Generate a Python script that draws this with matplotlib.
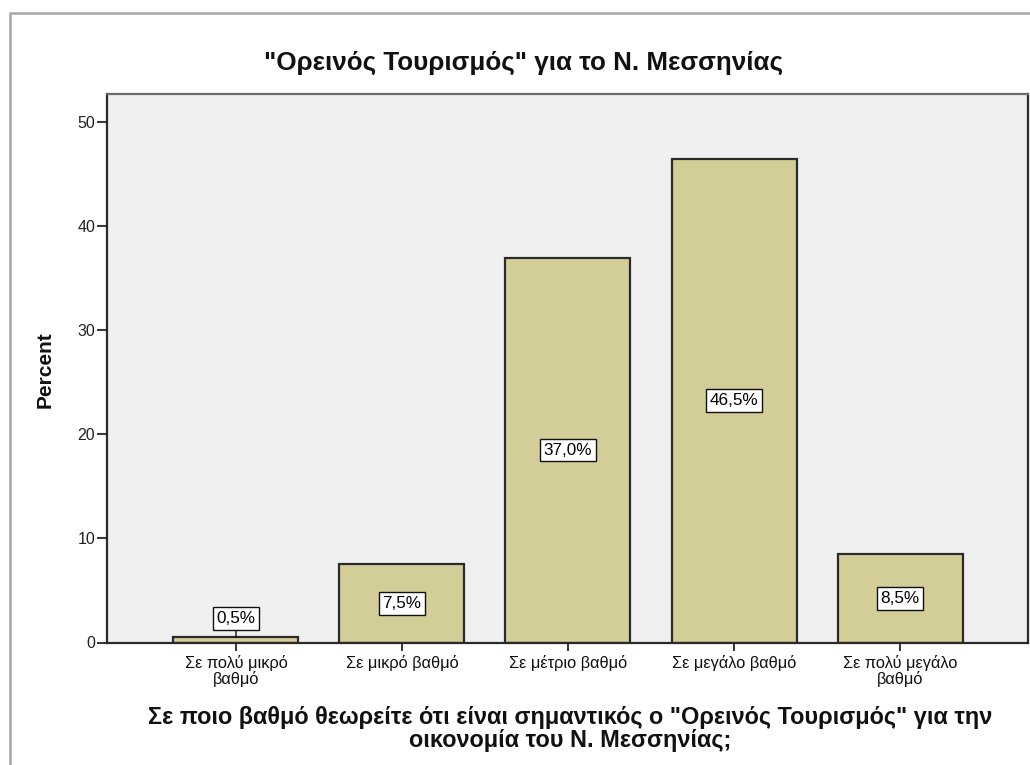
import matplotlib
matplotlib.use("Agg")
import matplotlib.pyplot as plt
from matplotlib.patches import Rectangle

plt.rcParams['font.family'] = ['Liberation Sans', 'DejaVu Sans']

categories = ["Σε πολύ μικρό\nβαθμό", "Σε μικρό βαθμό", "Σε μέτριο βαθμό",
              "Σε μεγάλο βαθμό", "Σε πολύ μεγάλο\nβαθμό"]
percent = [0.5, 7.5, 37.0, 46.5, 8.5]
value_labels = ["0,5%", "7,5%", "37,0%", "46,5%", "8,5%"]
yticks = [0, 10, 20, 30, 40, 50]

title = "\"Ορεινός Τουρισμός\" για το Ν. Μεσσηνίας"
xlabel = "Σε ποιο βαθμό θεωρείτε ότι είναι σημαντικός ο \"Ορεινός Τουρισμός\" για την\nοικονομία του Ν. Μεσσηνίας;"
ylabel = "Percent"

W, H = 1030, 765
fig = plt.figure(figsize=(W / 100, H / 100), dpi=100)
fig.patch.set_facecolor("white")

# outer frame (clipped at right/bottom)
fig.patches.append(Rectangle((10 / W, -0.05), 1.1, 1 - 13 / H + 0.05,
                             transform=fig.transFigure, fill=False,
                             edgecolor="#a8a8a8", linewidth=1.8))

ax = fig.add_axes([107 / W, 1 - 642.5 / H, (1028 - 107) / W, (642.5 - 94) / H])
ax.set_facecolor("#f0f0f0")

x = list(range(len(categories)))
bars = ax.bar(x, percent, width=0.753, color="#d3ce97", edgecolor="#2a2a2a",
              linewidth=1.6, zorder=2)

ax.set_xlim(-0.777, len(categories) - 1 + 0.771)
ax.set_ylim(0, 52.74)
ax.set_yticks(yticks)
ax.set_yticklabels([str(t) for t in yticks], fontsize=11.5, color="#222222")
ax.set_xticks(x)
ax.set_xticklabels(categories, fontsize=11.8, color="#111111", linespacing=0.98)
ax.tick_params(axis="y", direction="out", length=7.5, width=1.4, color="#333333", pad=1)
ax.tick_params(axis="x", direction="out", length=6, width=1.4, color="#333333", pad=3)

for side in ["left", "bottom", "right"]:
    ax.spines[side].set_color("#2a2a2a")
    ax.spines[side].set_linewidth(1.6)
ax.spines["top"].set_color("#6a6a6a")
ax.spines["top"].set_linewidth(1.6)

box = dict(boxstyle="square,pad=0.22", facecolor="white", edgecolor="#111111", linewidth=1.0)
for xi, v, lab in zip(x, percent, value_labels):
    if v < 3:
        ax.annotate(lab, xy=(xi, v), xytext=(xi, v + 1.8), textcoords="data",
                    ha="center", va="center", fontsize=12.3, bbox=box, zorder=4,
                    arrowprops=dict(arrowstyle="-", color="#111111", lw=1.0,
                                    shrinkA=0, shrinkB=0))
    else:
        ax.text(xi, v / 2, lab, ha="center", va="center", fontsize=12.3,
                bbox=box, zorder=4)

fig.text(524 / W, 1 - 63 / H, title, ha="center", va="center", fontsize=18.7,
         fontweight="bold", color="#111111")
fig.text(570 / W, 1 - 729 / H, xlabel, ha="center", va="center", fontsize=16.9,
         fontweight="bold", color="#111111", linespacing=0.98)
fig.text(45 / W, 1 - 370 / H, ylabel, ha="center", va="center", rotation=90,
         fontsize=15, fontweight="bold", color="#111111")

fig.savefig("out.png", dpi=100)
